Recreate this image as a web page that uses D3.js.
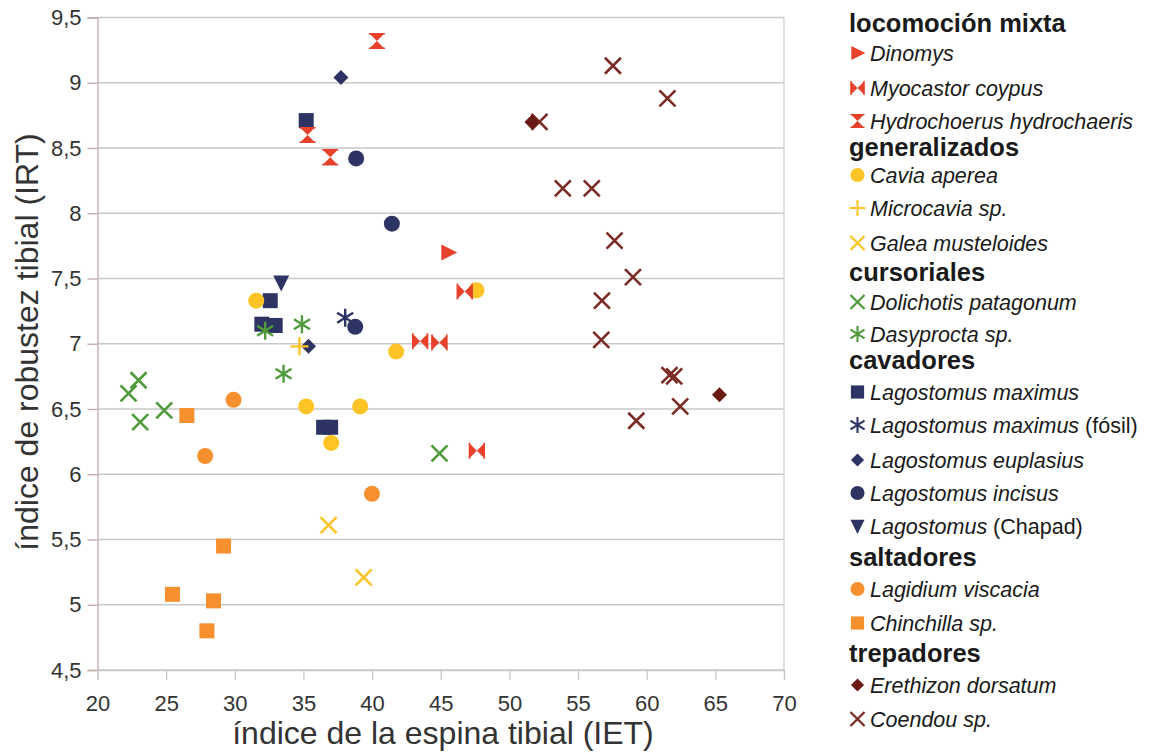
<!DOCTYPE html>
<html>
<head>
<meta charset="utf-8">
<script src="https://cdn.jsdelivr.net/npm/d3@7"></script>
<style>
  html, body { margin: 0; padding: 0; background: #fff; }
  svg { display: block; font-family: "Liberation Sans", Arial, sans-serif; }
</style>
</head>
<body>
<svg id="chart" width="1156" height="755"></svg>
<script>
// ---------- data (IET, IRT) ----------
const dinomys = [[45.55, 7.70]];
const myocastor = [[43.5, 7.02], [44.9, 7.01], [46.75, 7.40], [47.63, 6.18]];
const hydrochoerus = [[40.35, 9.32], [35.3, 8.60], [36.95, 8.43]];
const cavia = [[31.56, 7.33], [41.75, 6.94], [47.6, 7.41], [35.2, 6.52], [39.13, 6.52], [37.02, 6.24]];
const microcavia = [[34.71, 6.98]];
const galea = [[36.83, 5.61], [39.38, 5.21]];
const dolichotis = [[22.26, 6.62], [22.99, 6.72], [23.11, 6.40], [24.86, 6.49], [44.91, 6.16]];
const dasyprocta = [[32.21, 7.10], [34.89, 7.15], [33.55, 6.77]];
const lagMaximus = [[35.2, 8.71], [32.58, 7.33], [31.97, 7.15], [32.94, 7.14], [36.47, 6.36], [36.98, 6.36]];
const lagFosil = [[38.04, 7.20]];
const lagEuplasius = [[37.73, 9.04], [35.37, 6.98]];
const lagIncisus = [[38.84, 8.42], [41.44, 7.92], [38.77, 7.13]];
const lagChapad = [[33.38, 7.47]];
const lagidium = [[29.91, 6.57], [27.84, 6.14], [39.99, 5.85]];
const chinchilla = [[26.51, 6.45], [29.18, 5.45], [25.46, 5.08], [28.45, 5.03], [27.97, 4.80]];
const erethizon = [[51.64, 8.70], [65.3, 6.61]];
const coendou = [[57.54, 9.13], [61.51, 8.88], [52.19, 8.70], [53.89, 8.19], [56.0, 8.19],
                 [57.66, 7.79], [59.0, 7.51], [56.74, 7.33], [56.69, 7.03], [61.66, 6.76],
                 [62.0, 6.75], [62.44, 6.52], [59.24, 6.41]];

const xTicks = [20, 25, 30, 35, 40, 45, 50, 55, 60, 65, 70];
const yTicks = [4.5, 5, 5.5, 6, 6.5, 7, 7.5, 8, 8.5, 9, 9.5];
const xTitle = "índice de la espina tibial (IET)";
const yTitle = "índice de robustez tibial (IRT)";

const groups = ["locomoción mixta", "generalizados", "cursoriales", "cavadores", "saltadores", "trepadores"];

// ---------- series config ----------
const RED = "#e8412b", YEL = "#fec425", GRN = "#4f9a3b", NAVY = "#2d3463", ORG = "#f6902f", DRED = "#6a1a15", CRED = "#7b2b26";
const series = [
  {g: 0, name: "Dinomys", data: dinomys, sym: "triRight", color: RED},
  {g: 0, name: "Myocastor coypus", data: myocastor, sym: "bowtie", color: RED},
  {g: 0, name: "Hydrochoerus hydrochaeris", data: hydrochoerus, sym: "hourglass", color: RED},
  {g: 1, name: "Cavia aperea", data: cavia, sym: "circle", color: YEL},
  {g: 1, name: "Microcavia sp.", data: microcavia, sym: "plus", color: YEL},
  {g: 1, name: "Galea musteloides", data: galea, sym: "x", color: YEL},
  {g: 2, name: "Dolichotis patagonum", data: dolichotis, sym: "x", color: GRN},
  {g: 2, name: "Dasyprocta sp.", data: dasyprocta, sym: "star", color: GRN},
  {g: 3, name: "Lagostomus maximus", data: lagMaximus, sym: "square", color: NAVY},
  {g: 3, name: "Lagostomus maximus", extra: " (fósil)", data: lagFosil, sym: "star", color: NAVY},
  {g: 3, name: "Lagostomus euplasius", data: lagEuplasius, sym: "diamond", color: NAVY},
  {g: 3, name: "Lagostomus incisus", data: lagIncisus, sym: "circle", color: NAVY},
  {g: 3, name: "Lagostomus", extra: " (Chapad)", data: lagChapad, sym: "triDown", color: NAVY},
  {g: 4, name: "Lagidium viscacia", data: lagidium, sym: "circle", color: ORG},
  {g: 4, name: "Chinchilla sp.", data: chinchilla, sym: "square", color: ORG},
  {g: 5, name: "Erethizon dorsatum", data: erethizon, sym: "diamond", color: DRED},
  {g: 5, name: "Coendou sp.", data: coendou, sym: "x", color: CRED}
];

// ---------- layout ----------
const svg = d3.select("#chart");
const x = d3.scaleLinear().domain([20, 70]).range([97.5, 784]);
const y = d3.scaleLinear().domain([4.5, 9.5]).range([670, 17.5]);
const fmt = d => String(d).replace(".", ",");
const FONT = "Liberation Sans, Arial, sans-serif";

// gridlines
svg.append("g").selectAll("line").data(yTicks).join("line")
  .attr("x1", x(20)).attr("x2", x(70))
  .attr("y1", d => y(d)).attr("y2", d => y(d))
  .attr("stroke", "#c9c9c9").attr("stroke-width", 1.3);
// right border
svg.append("line").attr("x1", x(70)).attr("x2", x(70)).attr("y1", y(9.5)).attr("y2", y(4.5))
  .attr("stroke", "#d2d2d2").attr("stroke-width", 1.3);

// y axis
const yAxis = svg.append("g").attr("transform", `translate(${x(20)},0)`)
  .call(d3.axisLeft(y).tickValues(yTicks).tickFormat(fmt).tickSize(10).tickPadding(6));
yAxis.select(".domain").attr("stroke", "#c4a9a9").attr("stroke-width", 1.3);
yAxis.selectAll(".tick line").attr("stroke", "#c4a9a9").attr("stroke-width", 1.3);
yAxis.selectAll("text").attr("font-size", 22).attr("fill", "#333").attr("font-family", FONT);

// x axis
const xAxis = svg.append("g").attr("transform", `translate(0,${y(4.5)})`)
  .call(d3.axisBottom(x).tickValues(xTicks).tickFormat(fmt).tickSize(10).tickPadding(15));
xAxis.select(".domain").attr("stroke", "#c9c9c9").attr("stroke-width", 1.3);
xAxis.selectAll(".tick line").attr("stroke", "#c9c9c9").attr("stroke-width", 1.3);
xAxis.selectAll("text").attr("font-size", 22).attr("fill", "#333").attr("font-family", FONT);

// axis titles
svg.append("text").attr("x", 443).attr("y", 744).attr("text-anchor", "middle")
  .attr("font-size", 32).attr("fill", "#333").text(xTitle);
svg.append("text").attr("transform", `translate(38,${342}) rotate(-90)`)
  .attr("text-anchor", "middle").attr("font-size", 32).attr("fill", "#333").text(yTitle);

// ---------- symbols ----------
function drawSym(g, sym, color, s) {
  s = s || 1;
  switch (sym) {
    case "square":
      g.append("rect").attr("x", -7.5 * s).attr("y", -7.5 * s).attr("width", 15 * s).attr("height", 15 * s).attr("fill", color); break;
    case "circle":
      g.append("circle").attr("r", 8 * s).attr("fill", color); break;
    case "diamond":
      g.append("path").attr("d", `M0,${-7.5*s}L${7.5*s},0L0,${7.5*s}L${-7.5*s},0Z`).attr("fill", color); break;
    case "triRight":
      g.append("path").attr("d", `M${-7*s},${-8*s}L${9*s},0L${-7*s},${8*s}Z`).attr("fill", color); break;
    case "triDown":
      g.append("path").attr("d", `M${-8*s},${-7*s}L${8*s},${-7*s}L0,${9*s}Z`).attr("fill", color); break;
    case "bowtie":
      g.append("path").attr("d", `M${-8*s},${-8*s}L0,0L${-8*s},${8*s}Z M${8*s},${-8*s}L0,0L${8*s},${8*s}Z`).attr("fill", color);
      g.append("path").attr("d", `M${-7.3*s},${-8*s}L${-7.3*s},${8*s}M${7.3*s},${-8*s}L${7.3*s},${8*s}`).attr("stroke", color).attr("stroke-width", 1.5 * s);
      break;
    case "hourglass":
      g.append("path").attr("d", `M${-8*s},${-8*s}L${8*s},${-8*s}L0,0Z M${-8*s},${8*s}L${8*s},${8*s}L0,0Z`).attr("fill", color);
      g.append("path").attr("d", `M${-8*s},${-7.3*s}L${8*s},${-7.3*s}M${-8*s},${7.3*s}L${8*s},${7.3*s}`).attr("stroke", color).attr("stroke-width", 1.5 * s);
      break;
    case "x":
      g.append("path").attr("d", `M${-8*s},${-8*s}L${8*s},${8*s}M${-8*s},${8*s}L${8*s},${-8*s}`)
        .attr("stroke", color).attr("stroke-width", 2.6 * s).attr("fill", "none"); break;
    case "plus":
      g.append("path").attr("d", `M${-9*s},0L${9*s},0M0,${-9*s}L0,${9*s}`)
        .attr("stroke", color).attr("stroke-width", 2.4 * s).attr("fill", "none"); break;
    case "star":
      g.append("path").attr("d", `M${-8*s},${-5*s}L${8*s},${5*s}M${-8*s},${5*s}L${8*s},${-5*s}M0,${-9*s}L0,${9*s}`)
        .attr("stroke", color).attr("stroke-width", 2.4 * s).attr("fill", "none"); break;
  }
}

// ---------- points (later series drawn underneath) ----------
const pts = svg.append("g");
series.slice().reverse().forEach(se => {
  se.data.forEach(d => {
    const g = pts.append("g").attr("transform", `translate(${x(d[0])},${y(d[1])})`);
    drawSym(g, se.sym, se.color, 1);
  });
});

// ---------- legend ----------
const rows = [];
groups.forEach((gname, gi) => {
  rows.push({type: "head", text: gname});
  series.filter(s => s.g === gi).forEach(s => rows.push({type: "item", s}));
});
const rowY = [23, 53, 88, 121, 147, 175, 208, 243, 272, 302, 334, 360,
              392, 425, 460, 493, 526, 557, 589, 623, 653, 685, 719];
const leg = svg.append("g");
rows.forEach((r, i) => {
  const cy = rowY[i];
  if (r.type === "head") {
    leg.append("text").attr("x", 849).attr("y", cy).attr("dy", "0.35em")
      .attr("font-size", 25.5).attr("font-weight", "bold").attr("fill", "#1a1a1a").text(r.text);
  } else {
    const g = leg.append("g").attr("transform", `translate(857.5,${cy})`);
    drawSym(g, r.s.sym, r.s.color, 0.88);
    const t = leg.append("text").attr("x", 870).attr("y", cy).attr("dy", "0.35em")
      .attr("font-size", 21.5).attr("fill", "#1a1a1a");
    t.append("tspan").attr("font-style", "italic").text(r.s.name);
    if (r.s.extra) t.append("tspan").text(r.s.extra);
  }
});
</script>
</body>
</html>
